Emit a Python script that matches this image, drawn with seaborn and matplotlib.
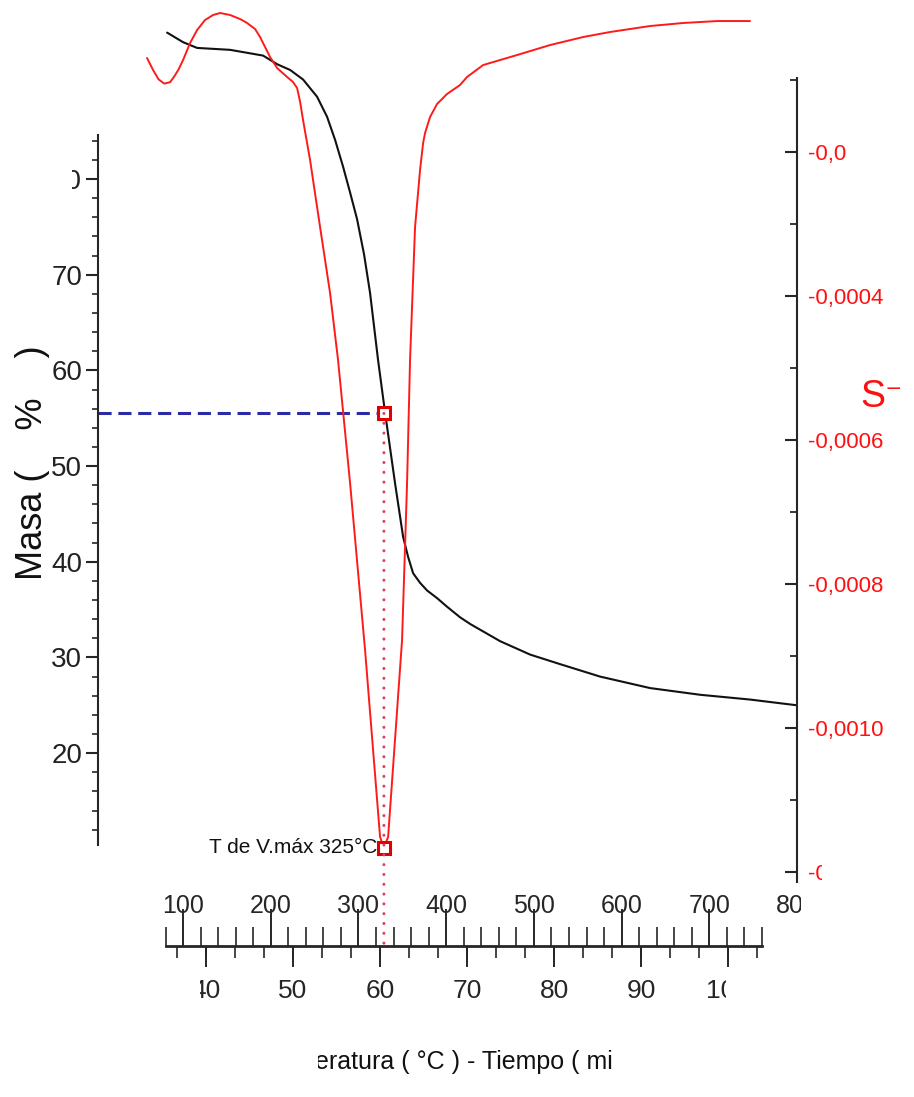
import numpy as np
import matplotlib
matplotlib.use('Agg')
import matplotlib.pyplot as plt
import seaborn as sns
from matplotlib import font_manager
from matplotlib.ticker import FixedLocator, FuncFormatter
from matplotlib.patches import ConnectionPatch
from matplotlib.transforms import Bbox, TransformedBbox

# values
# TG curve: temperature (°C) -> mass (%)
temp_mass = [81.8, 100, 116, 153.6, 191.2, 207.2, 222, 236.8, 252.8, 264.2, 273.3, 282.4,
             290.4, 298.4, 306.4, 313.2, 322.3, 330.3, 341.7, 350.9, 356.6, 362.3, 370.2,
             378.2, 389.6, 401, 415.8, 427.3, 438.7, 461.5, 495.7, 529.9, 575.5, 632.5,
             689.5, 746.5, 800]
mass_pct = [95.3, 94.3, 93.7, 93.5, 92.9, 92.0, 91.4, 90.4, 88.6, 86.5, 84.1, 81.3,
            78.6, 75.8, 72.1, 68.1, 61.1, 55.6, 48.2, 42.6, 40.5, 38.8, 37.8,
            37.0, 36.2, 35.3, 34.2, 33.5, 32.9, 31.7, 30.3, 29.3, 28.0, 26.8,
            26.1, 25.6, 25.0]

# DTG curve: temperature (°C) -> rate (1/s)
temp_dtg = [58.9, 65.8, 72, 78.5, 85.2, 90, 95, 100, 108, 116, 125, 134.2, 142.2, 153.6,
            165, 173, 182.1, 187.8, 199.2, 207.2, 218.6, 225.4, 230, 233.4, 236.8,
            244.8, 256.2, 267.6, 276.7, 290.4, 307.5, 324.6, 329, 333.8, 349.7,
            355.4, 358.8, 364.5, 370.2, 373.7, 375.9, 381.6, 389.6, 401, 415.8,
            423.8, 442.1, 480.8, 518.5, 556.1, 586.9, 632.5, 670.1, 708.9, 746.5]
dtg_rate = [-0.694e-4, -0.861e-4, -0.99e-4, -1.05e-4, -1.03e-4, -0.95e-4, -0.85e-4,
            -0.722e-4, -0.486e-4, -0.306e-4, -0.167e-4, -0.097e-4, -0.069e-4, -0.097e-4,
            -0.153e-4, -0.208e-4, -0.292e-4, -0.403e-4, -0.681e-4, -0.833e-4,
            -0.958e-4, -1.028e-4, -1.111e-4, -1.300e-4, -1.556e-4, -2.111e-4,
            -3.042e-4, -3.958e-4, -4.889e-4, -6.597e-4, -8.917e-4, -11.514e-4,
            -11.667e-4, -11.514e-4, -8.778e-4, -6.597e-4, -4.889e-4, -3.042e-4,
            -2.25e-4, -1.875e-4, -1.736e-4, -1.514e-4, -1.333e-4, -1.194e-4,
            -1.069e-4, -0.958e-4, -0.792e-4, -0.653e-4, -0.514e-4, -0.403e-4, -0.333e-4,
            -0.25e-4, -0.208e-4, -0.181e-4, -0.181e-4]

peak_temp = 329
peak_mass = 55.5
peak_rate = -11.667e-4
peak_label = 'T de V.máx 325°C'

mass_ticks = [20, 30, 40, 50, 60, 70, 80]
rate_ticks = [-0.0012, -0.0010, -0.0008, -0.0006, -0.0004, -0.0002]
temp_ticks = [100, 200, 300, 400, 500, 600, 700, 800]
time_ticks = [40, 50, 60, 70, 80, 90, 100]
heating_rate = 9.92      # °C per min
temp_at_zero = -270.6    # °C at t = 0

sns.set_style('ticks')
installed = {f.name for f in font_manager.fontManager.ttflist}
narrow = 'Liberation Sans Narrow' if 'Liberation Sans Narrow' in installed else 'Liberation Sans'
plt.rcParams['font.family'] = [narrow, 'DejaVu Sans']

W, H = 914, 1097
fig = plt.figure(figsize=(W / 100, H / 100), dpi=100)


def box(x0, y0, x1, y1):
    return [x0 / W, 1 - y1 / H, (x1 - x0) / W, (y1 - y0) / H]


def clip_to(artist, x0, y0, x1, y1):
    artist.set_clip_on(True)
    artist.set_clip_box(TransformedBbox(Bbox.from_extents(x0 / W, 1 - y1 / H, x1 / W, 1 - y0 / H),
                                        fig.transFigure))


ax1 = fig.add_axes(box(98, 135, 797, 845))
ax2 = fig.add_axes(box(98, 78, 797, 882))
axb = fig.add_axes(box(98, 919, 797, 946))
for a in (ax1, ax2, axb):
    a.patch.set_visible(False)
    for s in a.spines.values():
        s.set_visible(False)
    a.set_xlim(3, 800)

# mass (left) axis
ax1.spines['left'].set_visible(True)
ax1.spines['left'].set_linewidth(1.5)
ax1.set_ylim(10.4, 84.6)
ax1.set_xticks([])
ax1.yaxis.set_major_locator(FixedLocator(mass_ticks))
ax1.yaxis.set_minor_locator(FixedLocator(np.arange(12, 85, 2)))
ax1.tick_params(axis='y', which='major', direction='out', length=8.5, width=1.5,
                labelsize=20, pad=3, labelcolor='#222222')
ax1.tick_params(axis='y', which='minor', direction='out', length=4, width=1.2)
sns.lineplot(x=temp_mass, y=mass_pct, ax=ax1, color='#111111', linewidth=1.5, clip_on=False)

# rate (right) axis
ax2.spines['right'].set_visible(True)
ax2.spines['right'].set_linewidth(1.5)
ax2.set_ylim(-0.001214, -0.0000972)
ax2.set_xticks([])
ax2.yaxis.tick_right()
ax2.yaxis.set_major_locator(FixedLocator(rate_ticks))
ax2.yaxis.set_minor_locator(FixedLocator(np.arange(-0.0011, 0, 0.0002)))
ax2.yaxis.set_major_formatter(FuncFormatter(lambda v, p: f'{v:.4f}'.replace('.', ',')))
ax2.tick_params(axis='y', which='major', direction='in', length=8.6, width=1.5,
                labelsize=16, pad=8, labelcolor='#ff1010')
ax2.tick_params(axis='y', which='minor', direction='in', length=5, width=1.3)
sns.lineplot(x=temp_dtg, y=dtg_rate, ax=ax2, color='#ff1a1a', linewidth=1.4, clip_on=False)

# peak markers and guides
ax1.hlines(peak_mass, ax1.get_xlim()[0], peak_temp, colors='#2b2ba8', linewidth=2.2,
           linestyles=(0, (4.3, 2.2)))
for a, yv in ((ax1, peak_mass), (ax2, peak_rate)):
    a.plot(peak_temp, yv, marker='s', ms=9, mfc='white', mec='#e00000', mew=2.2,
           clip_on=False, zorder=6)
ax2.annotate(peak_label, xy=(peak_temp, peak_rate), xytext=(-5, 0), textcoords='offset points',
             ha='right', va='center', fontsize=15, color='#111111')
guide = ConnectionPatch(xyA=(peak_temp, peak_mass), coordsA=ax1.transData,
                        xyB=(peak_temp, 0), coordsB=axb.get_xaxis_transform(),
                        linestyle=(0, (0.01, 3.2)), linewidth=2.2, color='#e0405a',
                        capstyle='round', zorder=5)
fig.add_artist(guide)

# bottom ruler: temperature above, time below
temp_minor = [t for t in range(80, 761, 20) if t % 100]
axb.spines['bottom'].set_visible(True)
axb.spines['bottom'].set_linewidth(2)
axb.spines['bottom'].set_bounds(80, 760)
axb.set_yticks([])
axb.xaxis.set_major_locator(FixedLocator(temp_ticks))
axb.xaxis.set_minor_locator(FixedLocator(temp_minor))
axb.tick_params(axis='x', which='both', bottom=True, top=False, labelbottom=False,
                labeltop=True, direction='in')
axb.tick_params(axis='x', which='major', length=27, width=1.4, labelsize=18, pad=1)
axb.tick_params(axis='x', which='minor', length=13.5, width=1.2)

secax = axb.secondary_xaxis('bottom', functions=(lambda T: (T - temp_at_zero) / heating_rate,
                                                  lambda t: t * heating_rate + temp_at_zero))
secax.xaxis.set_major_locator(FixedLocator(time_ticks))
secax.xaxis.set_minor_locator(FixedLocator(np.arange(36.67, 104, 10 / 3)))
secax.tick_params(axis='x', which='major', direction='out', length=15, width=1.4,
                  labelsize=19, pad=9)
secax.tick_params(axis='x', which='minor', direction='out', length=8.6, width=1.2)
for s in secax.spines.values():
    s.set_visible(False)

# axis titles
xlab = fig.text(448 / W, 1 - 1062 / H, 'Temperatura ( °C ) - Tiempo ( min )',
                ha='center', va='center', fontsize=18, color='#111111')
fig.text(33 / W, 1 - 580 / H, 'Masa (    %    )', rotation=90, ha='center', va='bottom',
         fontsize=26, color='#111111', family=['Liberation Sans', 'DejaVu Sans'])
slab = fig.text(860 / W, 1 - 397 / H, 'S⁻¹', ha='left', va='center', fontsize=27,
                color='#ff1010')

fig.canvas.draw()

# the reference picture is cropped: trim the labels that are cut there
clip_to(xlab, 318, 1030, 612, 1082)
clip_to(slab, 850, 360, 900, 430)
for loc, tk in zip(ax1.yaxis.get_majorticklocs(), ax1.yaxis.get_major_ticks()):
    if loc == 80:
        clip_to(tk.label1, 72, 150, 100, 200)
for loc, tk in zip(ax2.yaxis.get_majorticklocs(), ax2.yaxis.get_major_ticks()):
    if np.isclose(loc, -0.0002):
        clip_to(tk.label2, 800, 120, 847, 190)
    if np.isclose(loc, -0.0012):
        clip_to(tk.label2, 800, 850, 822, 900)
for loc, tk in zip(axb.xaxis.get_majorticklocs(), axb.xaxis.get_major_ticks()):
    if loc == 800:
        tk.tick1line.set_visible(False)
        clip_to(tk.label2, 770, 870, 801, 930)
for loc, tk in zip(secax.xaxis.get_majorticklocs(), secax.xaxis.get_major_ticks()):
    if loc == 40:
        clip_to(tk.label1, 200, 970, 230, 1000)
    if loc == 100:
        clip_to(tk.label1, 700, 970, 726, 998)

fig.savefig('out.png', dpi=100)
